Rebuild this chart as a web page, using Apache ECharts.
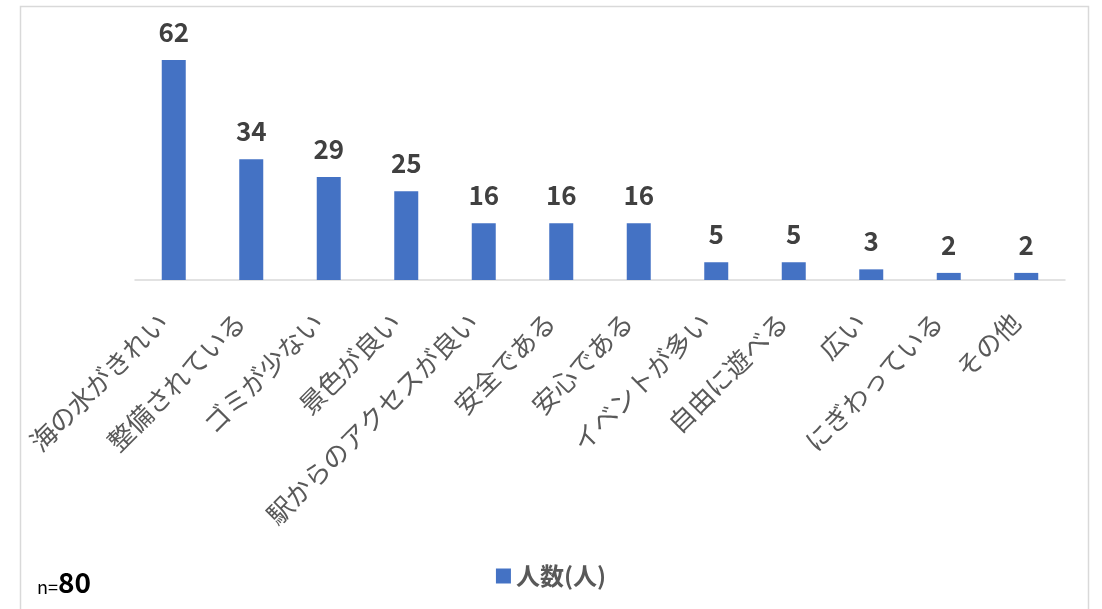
<!DOCTYPE html>
<html>
<head>
<meta charset="utf-8">
<script src="https://cdn.jsdelivr.net/npm/echarts@6/dist/echarts.min.js"></script>
<style>
  html, body { margin: 0; padding: 0; background: #fff; }
  #chart { width: 1102px; height: 609px; }
</style>
</head>
<body>
<div id="chart"></div>
<script>
// 回答項目
const categories = ['海の水がきれい', '整備されている', 'ゴミが少ない', '景色が良い', '駅からのアクセスが良い',
  '安全である', '安心である', 'イベントが多い', '自由に遊べる', '広い', 'にぎわっている', 'その他'];
// 回答人数
const counts = [62, 34, 29, 25, 16, 16, 16, 5, 5, 3, 2, 2];
const seriesName = '人数(人)';
const sampleSize = 80;

const chart = echarts.init(document.getElementById('chart'));
const font = '"Noto Sans CJK JP", "Noto Sans", sans-serif';

chart.setOption({
  animation: false,
  textStyle: { fontFamily: font },
  graphic: [
    {
      type: 'rect',
      shape: { x: 20.5, y: 6.5, width: 1068, height: 620 },
      style: { fill: 'none', stroke: '#d9d9d9', lineWidth: 1.5 },
      silent: true
    },
    {
      type: 'text',
      left: 37,
      top: 568,
      style: {
        text: '{a|n=}{b|' + sampleSize + '}',
        rich: {
          a: { fontSize: 18, fill: '#000', fontFamily: font, verticalAlign: 'bottom' },
          b: { fontSize: 28, fontWeight: 'bold', fill: '#000', fontFamily: font, verticalAlign: 'bottom' }
        }
      }
    }
  ],
  legend: {
    bottom: 16,
    left: 'center',
    itemWidth: 15,
    itemHeight: 15,
    icon: 'rect',
    itemGap: 8,
    textStyle: { fontSize: 24, fontWeight: 'bold', color: '#595959', fontFamily: font },
    data: [seriesName]
  },
  grid: { left: 135, right: 37, top: 31.5, bottom: 329 },
  xAxis: {
    type: 'category',
    data: categories,
    axisLine: { lineStyle: { color: '#d9d9d9', width: 1.5 } },
    axisTick: { show: false },
    axisLabel: {
      interval: 0,
      rotate: 45,
      margin: 27,
      padding: [0, 15, 0, 0],
      fontSize: 26,
      color: '#595959',
      fontFamily: font
    }
  },
  yAxis: {
    type: 'value',
    min: 0,
    max: 70,
    show: false,
    splitLine: { show: false }
  },
  series: [{
    name: seriesName,
    type: 'bar',
    data: counts,
    barWidth: 24,
    itemStyle: { color: '#4472c4' },
    label: {
      show: true,
      position: 'top',
      distance: 15,
      fontSize: 26,
      fontWeight: 'bold',
      color: '#404040',
      fontFamily: font
    }
  }]
});
</script>
</body>
</html>
